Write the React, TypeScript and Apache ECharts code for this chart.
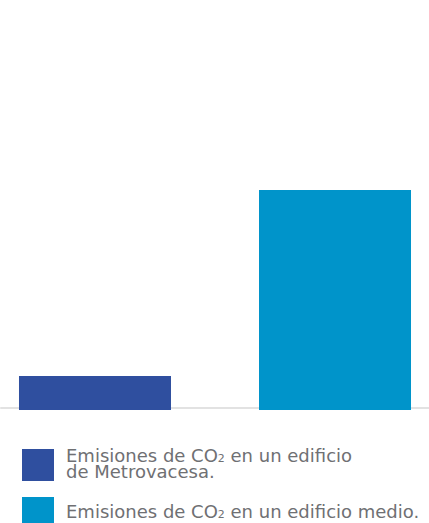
import React, { useEffect, useRef } from "react";
import * as echarts from "echarts";

const categories = [""];
const seriesNames = ["Metrovacesa", "Medio"];
const seriesValues = [15.5, 100];
const legendLabels = [
  "Emisiones de CO{sub|2} en un edificio\nde Metrovacesa.",
  "Emisiones de CO{sub|2} en un edificio medio.",
];
const barColors = ["#2f4f9f", "#0094ca"];

export default function App() {
  const ref = useRef<HTMLDivElement>(null);

  useEffect(() => {
    if (!ref.current) return;
    const chart = echarts.init(ref.current, null, { renderer: "svg" });
    const textColor = "#6f7073";
    chart.setOption({
      animation: false,
      grid: { left: 1, right: 0, top: 190, bottom: 113 },
      xAxis: {
        type: "category",
        data: categories,
        offset: -2,
        axisLine: { show: true, lineStyle: { color: "#e2e2e2", width: 2 } },
        axisTick: { show: false },
        axisLabel: { show: false },
        splitLine: { show: false },
      },
      yAxis: {
        type: "value",
        min: 0,
        max: 100,
        show: false,
        splitLine: { show: false },
      },
      legend: {
        orient: "vertical",
        left: 22,
        top: 446.5,
        width: 420,
        height: 200,
        padding: 0,
        itemGap: 14.5,
        itemWidth: 32,
        itemHeight: 32,
        icon: "rect",
        selectedMode: false,
        data: seriesNames,
        formatter: (name: string) => legendLabels[seriesNames.indexOf(name)],
        textStyle: {
          fontFamily: "DejaVu Sans",
          fontSize: 18,
          lineHeight: 16,
          color: textColor,
          padding: [0, 0, 3, 7],
          rich: {
            sub: {
              fontFamily: "DejaVu Sans",
              fontSize: 11,
              lineHeight: 1,
              verticalAlign: "bottom",
              color: textColor,
            },
          },
        },
      },
      series: seriesNames.map((name, i) => ({
        name,
        type: "bar",
        data: [seriesValues[i]],
        barWidth: 152,
        barGap: "57.9%",
        itemStyle: { color: barColors[i] },
        silent: true,
      })),
    });
    return () => chart.dispose();
  }, []);

  return (
    <div
      ref={ref}
      style={{ position: "fixed", left: 0, top: 0, width: 429, height: 523, background: "#fff" }}
    />
  );
}
